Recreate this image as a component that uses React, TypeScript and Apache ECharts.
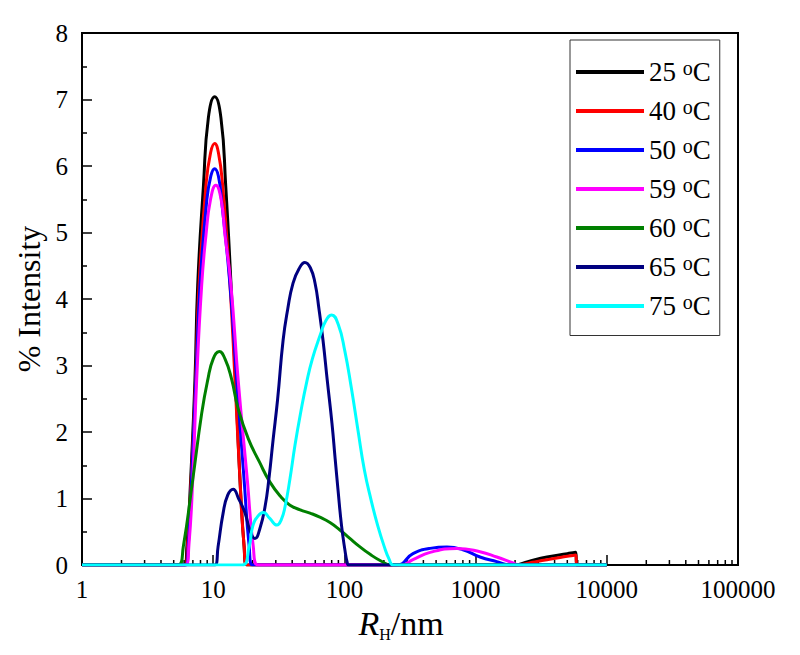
import React, { useEffect, useRef } from "react";
import * as echarts from "echarts";

const FONT = "'Liberation Serif', 'Times New Roman', serif";

const temps = ["25", "40", "50", "59", "60", "65", "75"];
const colors = ["#000000", "#ff0000", "#0000ff", "#ff00ff", "#008000", "#000080", "#00ffff"];

// [R_H (nm), % intensity]
const d25 = [
  [1, 0], [6.03, 0], [6.31, 0.3], [6.73, 1.28], [7.26, 2.78], [7.62, 4.21], [8.43, 5.71],
  [9.18, 6.72], [10.26, 7.04], [11.46, 6.72], [12.45, 5.71], [13.68, 4.21], [14.8, 2.78],
  [16.0, 1.28], [17.2, 0.28], [18.0, 0],
  [2000, 0], [2500, 0.05], [3500, 0.12], [5000, 0.17], [5800, 0.19], [5900, 0], [10000, 0],
];
const d40 = [
  [1, 0], [6.1, 0], [6.38, 0.3], [6.79, 1.28], [7.35, 2.78], [7.8, 4.21], [8.81, 5.71],
  [9.55, 6.2], [10.26, 6.34], [10.96, 6.2], [11.8, 5.71], [13.43, 4.21], [14.66, 2.78],
  [16.0, 1.28], [17.2, 0.28], [18.2, 0],
  [2100, 0], [2700, 0.04], [3500, 0.08], [5000, 0.13], [5800, 0.15], [5900, 0], [10000, 0],
];
const d50 = [
  [1, 0], [6.17, 0], [6.46, 0.3], [6.84, 1.28], [7.38, 2.78], [7.93, 4.21], [8.91, 5.46],
  [9.6, 5.85], [10.26, 5.96], [10.95, 5.85], [11.61, 5.46], [13.43, 4.21], [15.1, 2.78],
  [17.2, 1.28], [18.8, 0.28], [20, 0],
  [250, 0], [333, 0.17], [450, 0.25], [605, 0.27], [800, 0.23], [1080, 0.12], [1450, 0.05],
  [1830, 0], [10000, 0],
];
const d59 = [
  [1, 0], [6.17, 0], [6.53, 0.3], [6.98, 1.28], [7.48, 2.78], [8.17, 4.21], [8.81, 4.96],
  [9.55, 5.5], [10.47, 5.71], [11.48, 5.5], [12.3, 4.96], [13.65, 4.21], [15.5, 2.78],
  [18.2, 1.28], [20.2, 0.28], [21.9, 0],
  [270, 0], [333, 0.08], [450, 0.19], [720, 0.25], [1080, 0.2], [1450, 0.12], [1930, 0.03],
  [2150, 0], [10000, 0],
];
const d60 = [
  [1, 0], [5.42, 0], [5.92, 0.28], [6.98, 1.28], [8.17, 2.28], [9.08, 2.78], [10.0, 3.1],
  [11.13, 3.21], [12.3, 3.1], [13.8, 2.8], [15.5, 2.35], [18.5, 1.9], [22.5, 1.55],
  [27, 1.25], [33, 1.02], [38.5, 0.9], [46, 0.83], [54.7, 0.78], [65, 0.72], [77.6, 0.64],
  [92, 0.53], [110, 0.4], [130, 0.28], [157, 0.16], [190, 0.06], [225, 0], [10000, 0],
];
const d65 = [
  [1, 0], [10.3, 0], [10.9, 0.28], [11.9, 0.78], [12.9, 1.05], [14.2, 1.14], [15.6, 1.0],
  [17.5, 0.78], [19.2, 0.5], [20.8, 0.4], [22.7, 0.55], [24.8, 0.87], [26.6, 1.3], [28.6, 1.88],
  [31, 2.5], [34.1, 3.38], [37, 3.85], [40.6, 4.24], [45, 4.45], [50, 4.55], [55, 4.47],
  [59.7, 4.24], [64, 3.85], [68.7, 3.38], [74, 2.78], [80.4, 2.13], [85, 1.6], [89.4, 1.13],
  [95, 0.6], [101, 0.22], [105, 0.04], [108, 0], [10000, 0],
];
const d75 = [
  [1, 0], [16.5, 0], [18.8, 0.28], [20, 0.58], [22, 0.74], [24.1, 0.79], [27, 0.7], [30.6, 0.6],
  [33, 0.68], [35.3, 0.88], [38.5, 1.3], [42, 1.8], [46.5, 2.3], [51.6, 2.75], [57, 3.1],
  [65.2, 3.45], [72, 3.67], [80, 3.76], [89.7, 3.62], [100.7, 3.22], [113, 2.66], [126.8, 2.03],
  [142, 1.43], [159.6, 0.98], [179, 0.6], [201, 0.28], [220, 0.08], [236, 0], [10000, 0],
];
const seriesData = [d25, d40, d50, d59, d60, d65, d75];

const xTickLabels = ["1", "10", "100", "1000", "10000", "100000"];
const xMinorTicks = [
  2, 3, 4, 5, 6, 7, 8, 9,
  20, 30, 40, 50, 60, 70, 80, 90,
  200, 300, 400, 500, 600, 700, 800, 900,
  2000, 3000, 4000, 5000, 6000, 7000, 8000, 9000,
  20000, 30000, 40000, 50000, 60000, 70000, 80000, 90000,
];

export default function App() {
  const ref = useRef<HTMLDivElement>(null);
  useEffect(() => {
    if (!ref.current) return;
    const chart = echarts.init(ref.current, null, { renderer: "svg" });
    const names = temps.map((t) => `${t} oC`);
    const lineSeries = seriesData.map((d, i) => ({
      name: names[i],
      type: "line",
      data: d,
      smooth: 0.5,
      showSymbol: false,
      symbol: "none",
      lineStyle: { color: colors[i], width: 3 },
      itemStyle: { color: colors[i] },
      z: 3 + i,
    }));
    chart.setOption({
      animation: false,
      backgroundColor: "#ffffff",
      grid: {
        left: 82,
        top: 33,
        right: 62,
        bottom: 90,
        show: true,
        borderColor: "#000",
        borderWidth: 2,
        backgroundColor: "transparent",
      },
      legend: {
        orient: "vertical",
        left: 570,
        top: 40,
        padding: [18, 9, 16, 6],
        itemGap: 11.5,
        itemWidth: 68,
        itemHeight: 4,
        icon: "rect",
        borderColor: "#333",
        borderWidth: 1,
        backgroundColor: "#fff",
        data: names,
        formatter: (name: string) => {
          const t = name.split(" ")[0];
          return `{n|${t} }{s|o}{n|C}`;
        },
        textStyle: {
          color: "#000",
          fontFamily: FONT,
          rich: {
            n: { fontSize: 27, fontFamily: FONT, lineHeight: 28, color: "#000" },
            s: { fontSize: 20, fontFamily: FONT, lineHeight: 16, verticalAlign: "top", color: "#000" },
          },
        },
      },
      xAxis: {
        type: "log",
        logBase: 10,
        min: 1,
        max: 100000,
        name: "{i|R}{s|H}{n|/nm}",
        nameLocation: "middle",
        nameGap: 24,
        nameTextStyle: {
          padding: [0, 18, 0, 0],
          rich: {
            i: { fontSize: 34, fontStyle: "italic", fontFamily: FONT, lineHeight: 38, color: "#000" },
            s: { fontSize: 16, fontFamily: FONT, lineHeight: 10, verticalAlign: "bottom", color: "#000" },
            n: { fontSize: 34, fontFamily: FONT, lineHeight: 38, color: "#000" },
          },
        },
        axisLine: { show: true, lineStyle: { color: "#000", width: 2 } },
        axisTick: { show: true, inside: true, length: 10, lineStyle: { color: "#000", width: 1.5 } },
        minorTick: { show: false },
        splitLine: { show: false },
        axisLabel: {
          margin: 12,
          fontSize: 25,
          fontFamily: FONT,
          color: "#000",
          formatter: (v: number) => {
            const idx = Math.round(Math.log10(v));
            return xTickLabels[idx] ?? String(v);
          },
        },
      },
      yAxis: {
        type: "value",
        min: 0,
        max: 8,
        interval: 1,
        name: "% Intensity",
        nameLocation: "middle",
        nameGap: 34,
        nameTextStyle: { fontSize: 32, fontFamily: FONT, color: "#000" },
        axisLine: { show: true, lineStyle: { color: "#000", width: 2 } },
        axisTick: { show: true, inside: true, length: 10, lineStyle: { color: "#000", width: 1.5 } },
        minorTick: { show: true, splitNumber: 2, length: 5, lineStyle: { color: "#000", width: 1.5 } },
        splitLine: { show: false },
        axisLabel: { margin: 14, fontSize: 25, fontFamily: FONT, color: "#000" },
      },
      series: [
        {
          type: "custom",
          name: "minorTicks",
          silent: true,
          data: xMinorTicks.map((v) => [v, 0]),
          encode: { x: 0, y: 1 },
          z: 2,
          renderItem: (params: any, api: any) => {
            const p = api.coord([api.value(0), 0]);
            return {
              type: "line",
              shape: { x1: p[0], y1: p[1], x2: p[0], y2: p[1] - 5 },
              style: { stroke: "#000", lineWidth: 1.5 },
            };
          },
        },
        ...lineSeries,
      ],
    });
    return () => chart.dispose();
  }, []);
  return (
    <div
      ref={ref}
      style={{ position: "fixed", left: 0, top: 0, width: 800, height: 655, background: "#fff" }}
    />
  );
}
